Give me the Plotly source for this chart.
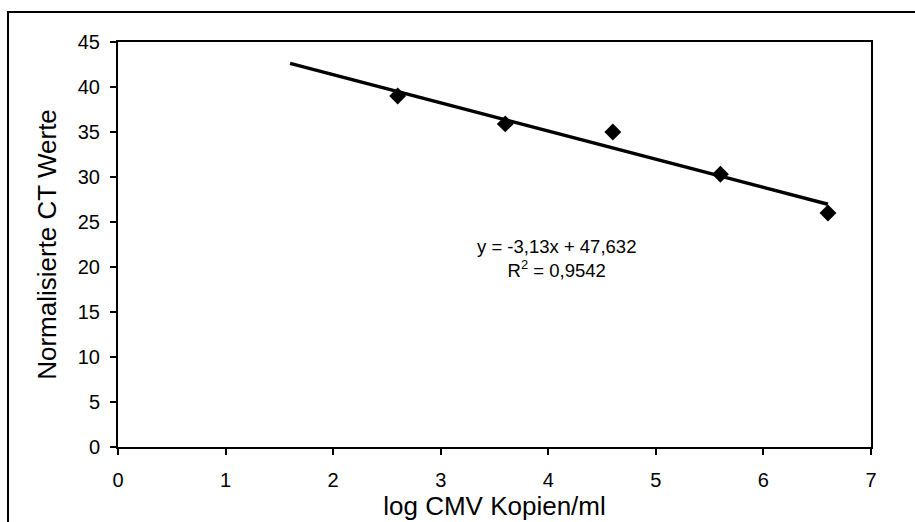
import plotly.graph_objects as go

# Data
log_copies = [2.6, 3.6, 4.6, 5.6, 6.6]
ct_values = [39.0, 35.9, 35.0, 30.3, 26.0]
trend_x = [1.6, 6.6]
trend_y = [42.62, 26.97]
x_ticks = [0, 1, 2, 3, 4, 5, 6, 7]
y_ticks = [0, 5, 10, 15, 20, 25, 30, 35, 40, 45]
equation_text = "y = -3,13x + 47,632<br>R<sup>2</sup> = 0,9542"

FONT = "Liberation Sans, Arial, sans-serif"

fig = go.Figure()
fig.add_trace(go.Scatter(
    x=trend_x, y=trend_y, mode="lines",
    line=dict(color="black", width=3.5), showlegend=False, hoverinfo="skip"))
fig.add_trace(go.Scatter(
    x=log_copies, y=ct_values, mode="markers",
    marker=dict(symbol="diamond", size=13, color="black"),
    showlegend=False))

W, H = 915, 522
L, R, T, B = 118, 44, 42, 75
pw, ph = W - L - R, H - T - B

def px(xp):
    return (xp - L) / pw

def py(yp):
    return (H - B - yp) / ph

fig.update_layout(
    width=W, height=H,
    margin=dict(l=L, r=R, t=T, b=B),
    paper_bgcolor="white", plot_bgcolor="white",
    font=dict(family=FONT, color="black", size=20),
    xaxis=dict(
        range=[0, 7], tickvals=x_ticks, showgrid=False, zeroline=False,
        showline=True, mirror=True, linecolor="black", linewidth=2,
        ticks="outside", ticklen=6, tickwidth=2, tickcolor="black",
        ticklabelstandoff=8,
        tickfont=dict(size=20, family=FONT),
        title=dict(text="log CMV Kopien/ml", font=dict(size=26, family=FONT), standoff=2),
    ),
    yaxis=dict(
        range=[0, 45], tickvals=y_ticks, showgrid=False, zeroline=False,
        showline=True, mirror=True, linecolor="black", linewidth=2,
        ticks="outside", ticklen=6, tickwidth=2, tickcolor="black",
        ticklabelstandoff=6,
        tickfont=dict(size=20, family=FONT),
        title=dict(text="Normalisierte CT Werte", font=dict(size=26, family=FONT), standoff=14),
    ),
    annotations=[dict(
        x=4.08, y=21.0, xref="x", yref="y", text=equation_text,
        showarrow=False, font=dict(size=18.5, family=FONT, color="black"),
        align="center")],
    shapes=[dict(
        type="rect", xref="paper", yref="paper",
        x0=px(8), x1=px(925), y0=py(535), y1=py(12),
        line=dict(color="black", width=2), layer="below")],
)

fig.write_html("out.html")
